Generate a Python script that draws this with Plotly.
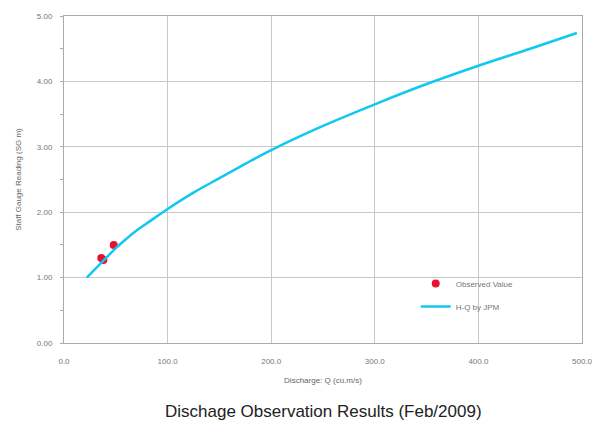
import plotly.graph_objects as go

# Observed discharge measurements
obs_q = [36.0, 38.0, 48.0]
obs_h = [1.30, 1.27, 1.50]

# H-Q rating curve (JPM)
curve_q = [22, 30, 40, 50, 60, 70, 80, 100, 125, 150, 175, 200, 250, 300, 350, 400, 450, 495]
curve_h = [1.00, 1.13, 1.29, 1.45, 1.59, 1.72, 1.83, 2.05, 2.30, 2.52, 2.74, 2.95, 3.32, 3.65, 3.96, 4.24, 4.50, 4.74]

x_ticks = [0, 100, 200, 300, 400, 500]
y_ticks = [0, 1, 2, 3, 4, 5]

fig = go.Figure()
fig.add_trace(go.Scatter(x=obs_q, y=obs_h, mode="markers", name="Observed Value",
                         legendgroup="a",
                         marker=dict(color="#E8102E", size=8)))
fig.add_trace(go.Scatter(x=curve_q, y=curve_h, mode="lines", name="H-Q by JPM",
                         legendgroup="b",
                         line=dict(color="#10C8F0", width=2.5, shape="spline")))

grid = "#C8C8C8"
fig.update_layout(
    width=600, height=434,
    margin=dict(l=64, r=18, t=16, b=91, autoexpand=False),
    paper_bgcolor="white", plot_bgcolor="white",
    font=dict(family="Liberation Sans, Arial", size=8, color="#777777"),
    showlegend=True,
    legend=dict(x=0.679, y=0.226, xanchor="left", yanchor="top",
                bgcolor="rgba(0,0,0,0)", font=dict(size=8, color="#777777"),
                itemwidth=30, tracegroupgap=4),
    xaxis=dict(range=[0, 500], tickvals=x_ticks, ticktext=[f"{v:.1f}" for v in x_ticks],
               showgrid=True, gridcolor=grid, gridwidth=1, automargin=False,
               showline=True, linecolor="#AAAAAA", linewidth=1, mirror=True,
               ticks="", zeroline=False, ticklabelstandoff=10,
               title=dict(text="Discharge: Q (cu.m/s)", font=dict(size=8, color="#666666"), standoff=12)),
    yaxis=dict(range=[0, 5], tickvals=y_ticks, ticktext=[f"{v:.2f}" for v in y_ticks],
               showgrid=True, gridcolor=grid, gridwidth=1, automargin=False,
               showline=True, linecolor="#AAAAAA", linewidth=1, mirror=True,
               ticks="", zeroline=False, ticklabelstandoff=9,
               minor=dict(dtick=0.5, ticks="outside", ticklen=3, tickcolor="#AAAAAA", showgrid=False),
               title=dict(text="Staff Gauge Reading (SG m)", font=dict(size=8, color="#666666"), standoff=14)),
)
fig.add_annotation(text="Dischage Observation Results (Feb/2009)", xref="paper", yref="paper",
                   x=0.5, y=-0.211, xanchor="center", yanchor="middle", showarrow=False,
                   font=dict(family="Liberation Sans, Arial", size=17, color="#222222"))
fig.write_html("out.html", config={"displayModeBar": False},
               post_script="document.body.style.margin='0';document.body.style.overflow='hidden';")
